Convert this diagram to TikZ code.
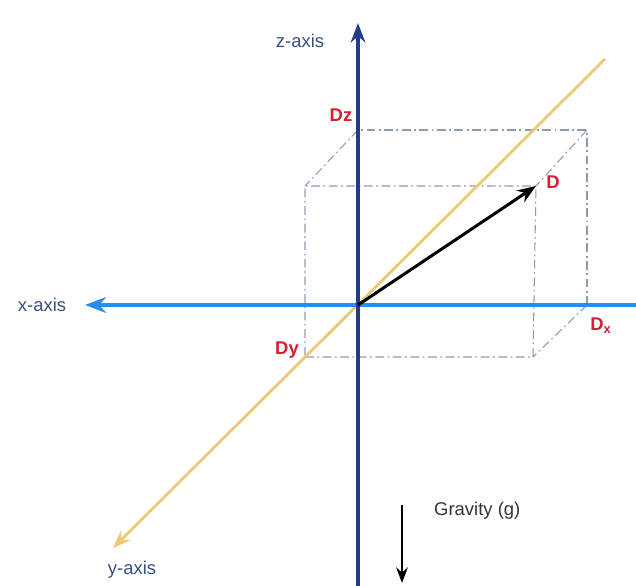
\documentclass[tikz,border=0pt]{standalone}
\usepackage{fontspec}
\setmainfont{Liberation Sans}
\usepackage{tikz}
\usetikzlibrary{arrows.meta}

\definecolor{zblue}{RGB}{35,60,135}
\definecolor{xblue}{RGB}{40,140,235}
\definecolor{ygold}{RGB}{238,200,115}
\definecolor{axistext}{RGB}{55,80,125}
\definecolor{dred}{RGB}{215,30,50}
\definecolor{boxgray}{RGB}{140,155,180}

\begin{document}
\begin{tikzpicture}[>=Stealth, font=\fontsize{10.5}{12}\selectfont,
    axislabel/.style={text=axistext, inner sep=1pt},
    dlabel/.style={text=dred, font=\fontsize{10.5}{12}\selectfont\bfseries, inner sep=1pt},
    boxline/.style={boxgray, line width=0.6pt, dash pattern=on 5pt off 2pt on 1pt off 2pt}]
    \useasboundingbox (-7.16,-5.62) rectangle (5.56,6.10);

    % Points
    \coordinate (O) at (0,0);
    \coordinate (Zbot) at (0,-5.62);
    \coordinate (Ztop) at (0,5.64);
    \coordinate (Xright) at (5.56,0);
    \coordinate (Xleft) at (-5.46,0);
    \coordinate (Ytop) at (4.94,4.92);
    \coordinate (Ybot) at (-4.9,-4.86);

    % Box (back face, then front face)
    \coordinate (B1) at (0,0);
    \coordinate (B2) at (4.58,0);
    \coordinate (B3) at (4.58,3.5);
    \coordinate (B4) at (0,3.5);
    \coordinate (F1) at (-1.06,-1.04);
    \coordinate (F2) at (3.5,-1.04);
    \coordinate (F3) at (3.56,2.38);
    \coordinate (F4) at (-1.06,2.38);
    \draw[boxline] (B2) -- (B3) -- (B4);
    \draw[boxline] (F1) -- (F2) -- (F3) -- (F4) -- cycle;
    \foreach \k in {2,3,4}
        \draw[boxline] (B\k) -- (F\k);

    % Axes
    \draw[ygold, line width=1.6pt, ->] (Ytop) -- (Ybot);
    \draw[xblue, line width=2pt, ->] (Xright) -- (Xleft);
    \draw[zblue, line width=1.8pt, ->] (Zbot) -- (Ztop);

    % Vector D
    \draw[black, line width=1.7pt, ->] (O) -- (F3);

    % Labels
    \node[axislabel] (zlab) at (-1.16,5.28) {z-axis};
    \node[axislabel] (xlab) at (-6.32,0.0) {x-axis};
    \node[axislabel] (ylab) at (-4.52,-5.3) {y-axis};
    \node[dlabel] (Dlab) at (3.9,2.46) {D};
    \node[dlabel] (Dzlab) at (-0.34,3.8) {Dz};
    \node[dlabel] (Dylab) at (-1.42,-0.9) {Dy};
    \node[dlabel] (Dxlab) at (4.86,-0.42) {D\textsubscript{x}};

    % Gravity
    \coordinate (G1) at (0.88,-4.0);
    \coordinate (G2) at (0.88,-5.56);
    \draw[black, line width=1.3pt, ->] (G1) -- (G2);
    \node[anchor=west, text=black!80] (glab) at (1.4,-4.12) {Gravity (g)};
\end{tikzpicture}
\end{document}
